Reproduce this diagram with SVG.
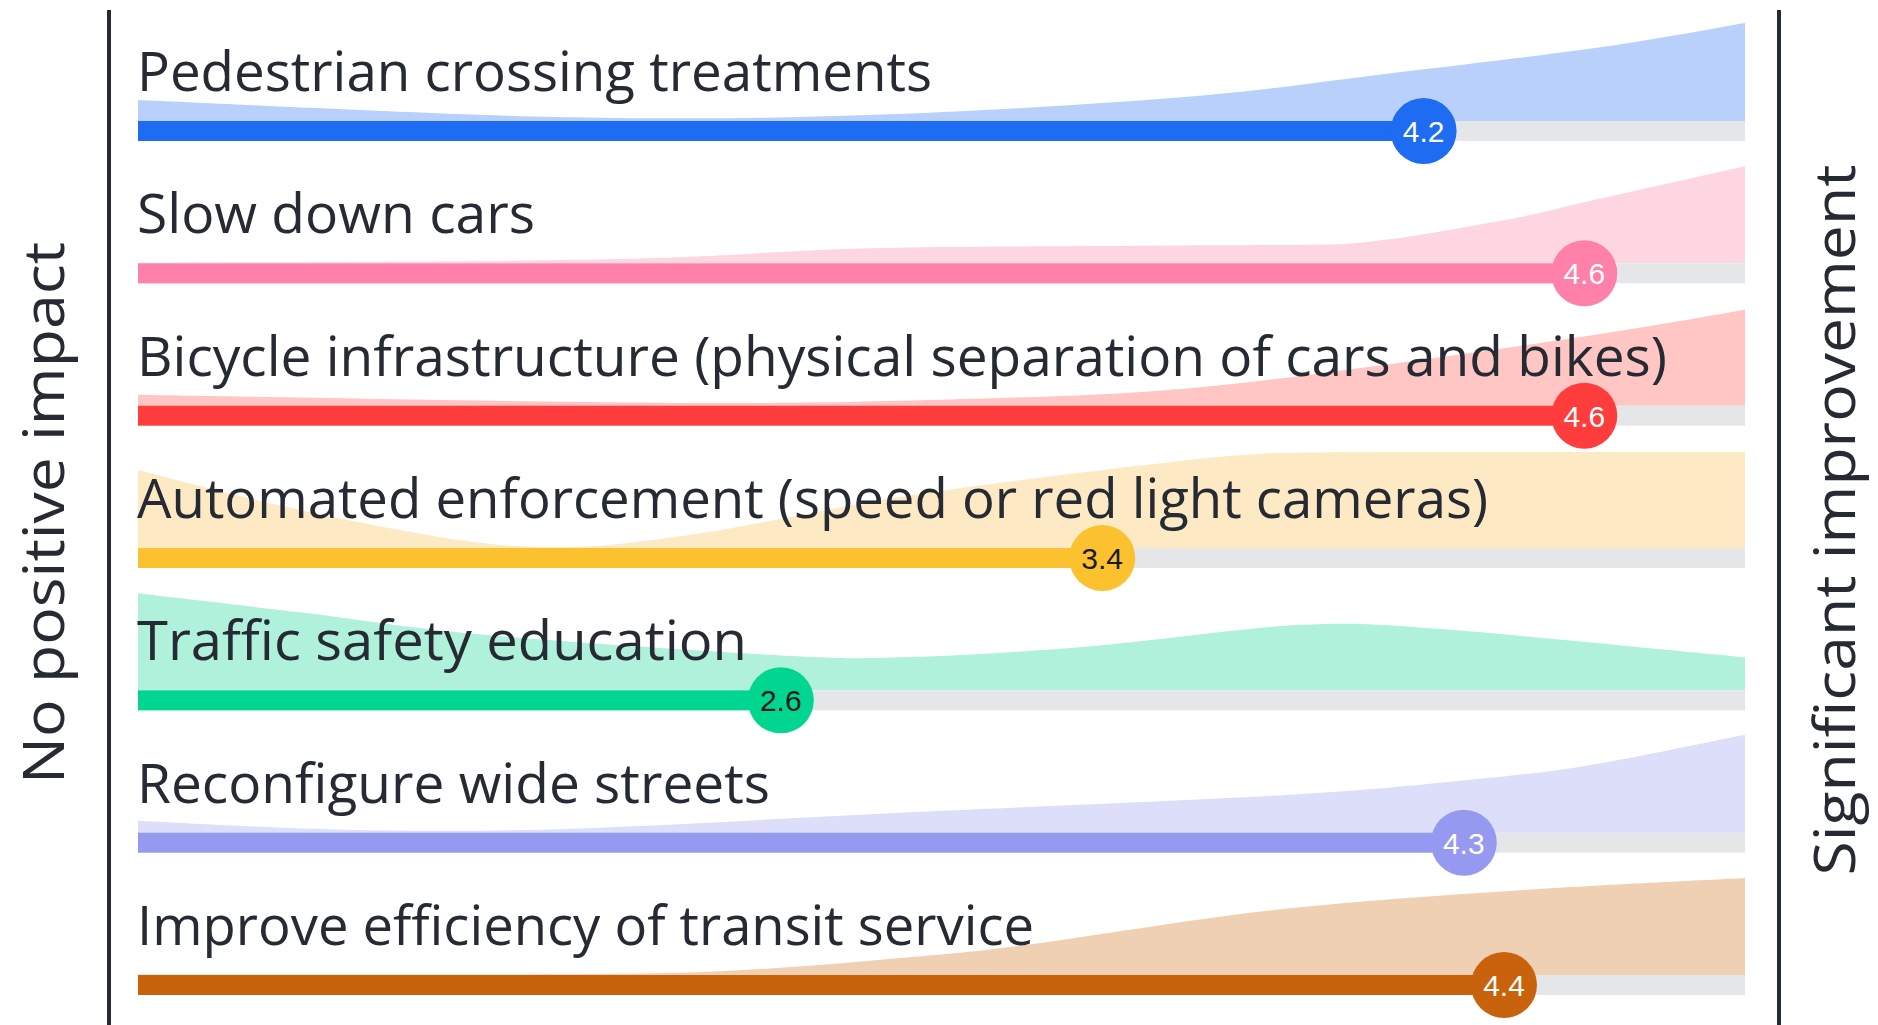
<svg xmlns="http://www.w3.org/2000/svg" width="1878" height="1025" viewBox="0 0 1878 1025">
<style>
.lbl{font-family:"Open Sans","Liberation Sans",sans-serif;font-size:54px;fill:#262a33}
.ax{font-family:"Open Sans","Liberation Sans",sans-serif;font-size:56px;fill:#262a33}
.val{font-family:"Liberation Sans",Arial,sans-serif;font-size:30px;text-anchor:middle}
.trk{fill:#e4e6e8}
.axis{stroke:#262a33;stroke-width:4}
</style>
<rect width="1878" height="1025" fill="#ffffff"/>
<g id="axes">
<line class="axis" x1="109" y1="10" x2="109" y2="1025"/>
<line class="axis" x1="1779" y1="10" x2="1779" y2="1025"/>
<text class="ax" transform="translate(64,513) rotate(-90)" text-anchor="middle" textLength="542" lengthAdjust="spacingAndGlyphs">No positive impact</text>
<text class="ax" transform="translate(1855,520) rotate(-90)" text-anchor="middle" textLength="711" lengthAdjust="spacingAndGlyphs">Significant improvement</text>
</g>
<g id="row-pedestrian">
<path fill="#b9d1fa" d="M138,121 L138,100 C207.7,102.8 434,114.5 556,117 C678,119.5 765.3,118.3 870,115 C974.7,111.7 1096.8,104 1184,97 C1271.2,90 1323.3,81.3 1393,73 C1462.7,64.7 1543.3,55.3 1602,47 C1660.7,38.7 1721.2,27 1745,23 L1745,121 Z"/>
<rect class="trk" x="138" y="121" width="1607" height="20"/>
<rect x="138" y="121" width="1285.6" height="20" fill="#1d6cf2"/>
<circle cx="1423.6" cy="131" r="33" fill="#1d6cf2"/>
<text class="val" x="1423.6" y="142" fill="#ffffff">4.2</text>
<text class="lbl" x="137" y="91" textLength="795" lengthAdjust="spacingAndGlyphs">Pedestrian crossing treatments</text>
</g>
<g id="row-slow" transform="translate(0,142.33)">
<path fill="#fdd6e1" d="M138,121 L138,120.5 C216.5,119.9 487,119.4 609,117 C731,114.6 779.8,108.25 870,106 C960.2,103.75 1071.5,104.2 1150,103.5 C1228.5,102.8 1290,103 1341,102 C1399,97.9 1454.5,86.7 1498,79 C1541.5,71.3 1560.8,65.2 1602,56 C1643.2,46.8 1721.2,29.3 1745,24 L1745,121 Z"/>
<rect class="trk" x="138" y="121" width="1607" height="20"/>
<rect x="138" y="121" width="1446.3" height="20" fill="#ff80a8"/>
<circle cx="1584.3" cy="131" r="33" fill="#ff80a8"/>
<text class="val" x="1584.3" y="142" fill="#ffffff">4.6</text>
<text class="lbl" x="137" y="91" textLength="398" lengthAdjust="spacingAndGlyphs">Slow down cars</text>
</g>
<g id="row-bicycle" transform="translate(0,284.67)">
<path fill="#ffc6c4" d="M138,121 L138,110 C225.2,111.5 521.5,117.2 661,118 C800.5,119.3 887.8,116.3 975,114 C1062.2,111.7 1114.3,109.8 1184,104 C1253.7,98.2 1323.3,88.2 1393,79 C1462.7,69.8 1543.3,58 1602,49 C1660.7,40 1721.2,29 1745,25 L1745,121 Z"/>
<rect class="trk" x="138" y="121" width="1607" height="20"/>
<rect x="138" y="121" width="1446.3" height="20" fill="#ff3d3d"/>
<circle cx="1584.3" cy="131" r="33" fill="#ff3d3d"/>
<text class="val" x="1584.3" y="142" fill="#ffffff">4.6</text>
<text class="lbl" x="137" y="91" textLength="1530" lengthAdjust="spacingAndGlyphs">Bicycle infrastructure (physical separation of cars and bikes)</text>
</g>
<g id="row-automated" transform="translate(0,427)">
<path fill="#fdeac4" d="M138,121 L138,43 C162.8,49.2 233.5,68.3 287,80 C340.5,91.7 411.2,106.3 459,113 C506.8,119.7 535.7,120.8 574,120 C612.3,119.2 655.5,112.5 689,108 C722.5,103.5 739.8,99.3 775,93 C810.2,86.7 848,78 900,70 C952,62 1024.7,52.3 1087,45 C1149.3,37.7 1213.5,29.3 1274,26 C1334.5,25 1371.5,25.2 1450,25 L1745,25 L1745,121 Z"/>
<rect class="trk" x="138" y="121" width="1607" height="20"/>
<rect x="138" y="121" width="964.2" height="20" fill="#fcc12e"/>
<circle cx="1102.2" cy="131" r="33" fill="#fcc12e"/>
<text class="val" x="1102.2" y="142" fill="#1a1a1a">3.4</text>
<text class="lbl" x="137" y="91" textLength="1351" lengthAdjust="spacingAndGlyphs">Automated enforcement (speed or red light cameras)</text>
</g>
<g id="row-education" transform="translate(0,569.33)">
<path fill="#b0f1dc" d="M138,121 L138,24 C165,27.2 243.2,36.2 300,43 C356.8,49.8 399.3,57.8 479,65 C558.7,72.2 707.8,82.2 778,86 C848.2,89.8 848.5,89.3 900,88 C951.5,86.7 1012.3,83.3 1080,78 C1147.7,72.7 1238.7,58.8 1300,55.5 C1361.3,52.7 1380.8,55.2 1445,60 C1520.2,66 1697.7,83.5 1745,88 L1745,121 Z"/>
<rect class="trk" x="138" y="121" width="1607" height="20"/>
<rect x="138" y="121" width="642.8" height="20" fill="#00d68f"/>
<circle cx="780.8" cy="131" r="33" fill="#00d68f"/>
<text class="val" x="780.8" y="142" fill="#1a1a1a">2.6</text>
<text class="lbl" x="137" y="91" textLength="610" lengthAdjust="spacingAndGlyphs">Traffic safety education</text>
</g>
<g id="row-reconfigure" transform="translate(0,711.67)">
<path fill="#dcdefa" d="M138,121 L138,109 C172.3,110.5 271.3,116.7 344,118 C416.7,119.3 481.3,119.8 574,117 C666.7,114.2 783.3,106.5 900,101 C1016.7,95.5 1180.5,89.3 1274,84 C1367.5,78.7 1409,74 1461,69 C1513,64 1538.7,61.7 1586,54 C1633.3,46.3 1718.5,28.2 1745,23 L1745,121 Z"/>
<rect class="trk" x="138" y="121" width="1607" height="20"/>
<rect x="138" y="121" width="1325.8" height="20" fill="#9699f0"/>
<circle cx="1463.8" cy="131" r="33" fill="#9699f0"/>
<text class="val" x="1463.8" y="142" fill="#ffffff">4.3</text>
<text class="lbl" x="137" y="91" textLength="633" lengthAdjust="spacingAndGlyphs">Reconfigure wide streets</text>
</g>
<g id="row-transit" transform="translate(0,854)">
<path fill="#efd0b3" d="M138,121 L138,120.5 C215,120.4 496.3,120.9 600,120 C703.7,119.1 710,117.7 760,115 C810,112.3 855.8,108 900,104 C944.2,100 962.7,99 1025,91 C1087.3,83 1190.8,65.2 1274,56 C1357.2,46.8 1445.5,41.3 1524,36 C1602.5,30.7 1708.2,26 1745,24 L1745,121 Z"/>
<rect class="trk" x="138" y="121" width="1607" height="20"/>
<rect x="138" y="121" width="1366" height="20" fill="#c8620c"/>
<circle cx="1504" cy="131" r="33" fill="#c8620c"/>
<text class="val" x="1504" y="142" fill="#ffffff">4.4</text>
<text class="lbl" x="137" y="91" textLength="897" lengthAdjust="spacingAndGlyphs">Improve efficiency of transit service</text>
</g>
</svg>
